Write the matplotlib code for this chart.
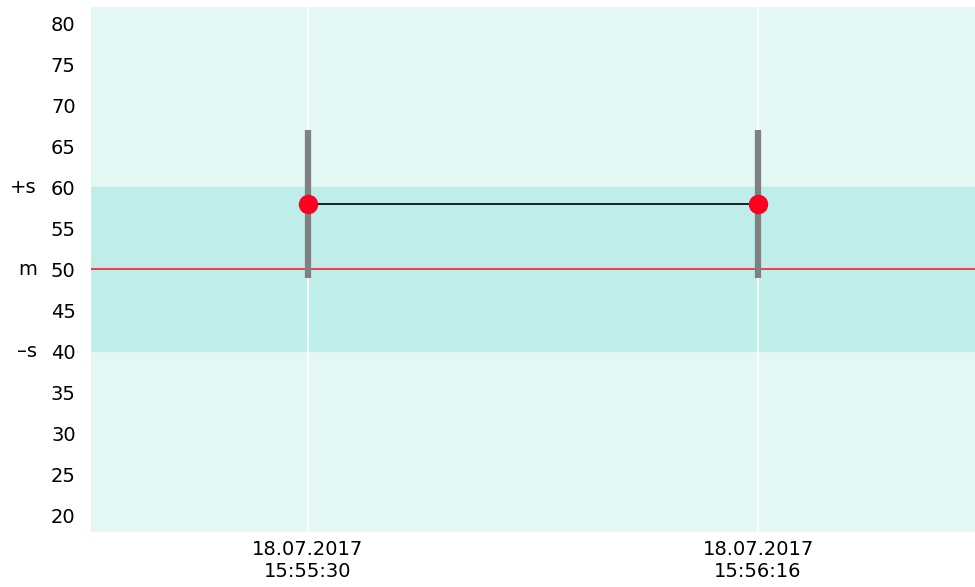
import numpy as np
import matplotlib.pyplot as plt

# Data
times = ["18.07.2017\n15:55:30", "18.07.2017\n15:56:16"]
values = [58, 58]
errors = [9, 9]
mean = 50
sd = 10
yticks = list(range(20, 85, 5))

plt.rcParams['font.family'] = ['DejaVu Sans']

fig = plt.figure(figsize=(9.75, 5.87), dpi=100)
ax = fig.add_axes([0.0933, 0.094, 0.9067, 0.894])

x = np.arange(len(times))
ax.set_facecolor('#e3f7f5')
ax.axhspan(mean - sd, mean + sd, color='#bfeeea', zorder=0)
for xi in x:
    ax.axvline(xi, color='white', lw=1.2, zorder=1)
ax.axhline(mean, color='#ff1a33', lw=1.2, zorder=2)

ax.errorbar(x, values, yerr=errors, fmt='none', ecolor='#808080', elinewidth=4.5, capsize=0, zorder=3)
ax.plot(x, values, color='black', lw=1.2, zorder=4)
ax.plot(x, values, 'o', color='#ff0022', markersize=13, zorder=5)

ax.set_xlim(-0.482, 1.482)
ax.set_ylim(18, 82)
ax.set_xticks(x)
ax.set_xticklabels(times, fontsize=14, linespacing=1.2)
ax.set_yticks(yticks)
ax.tick_params(axis='y', labelsize=14, length=0, pad=11)
ax.tick_params(axis='x', length=0, pad=6)

# labels for mean and +/- sd, left of the tick labels
for lab, yv in [("+s", mean + sd), ("m", mean), ("\u2013s", mean - sd)]:
    ax.annotate(lab, xy=(0, yv), xycoords=('axes fraction', 'data'),
                xytext=(-39, 0), textcoords='offset points',
                ha='right', va='center', fontsize=14)

for s in ax.spines.values():
    s.set_visible(False)

plt.savefig('out.png', dpi=100)
